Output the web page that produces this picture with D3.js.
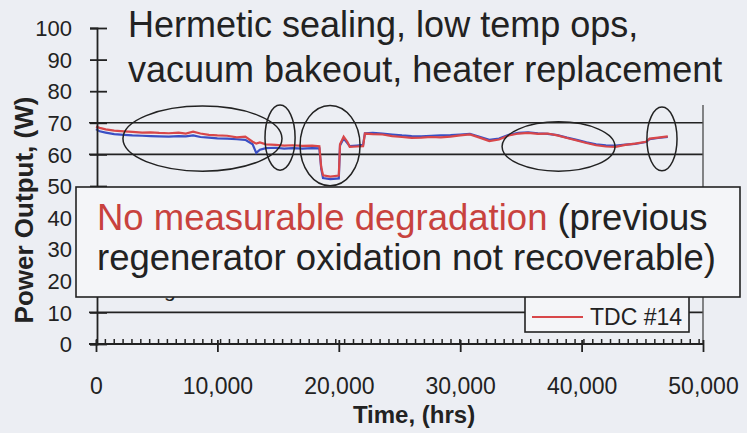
<!DOCTYPE html>
<html>
<head>
<meta charset="utf-8">
<script src="https://cdn.jsdelivr.net/npm/d3@7"></script>
<style>
  body { margin: 0; background: #eceef3; }
  text { font-family: "Liberation Sans", Arial, sans-serif; fill: #222; }
</style>
</head>
<body>
<script>
// time in hours, power in watts
const hours = [0, 300, 800, 1500, 2300, 3000, 3800, 4500, 5200, 6000, 6800, 7400, 8000, 8600, 9300,
  10000, 10800, 11600, 12300, 12900, 13200, 13500, 14000, 14800, 15500, 16200, 17000, 17800, 18400,
  18550, 18700, 19300, 20000, 20100, 20400, 20700, 20900, 21500, 22000, 22150, 22800, 23600, 24400,
  25200, 26000, 26800, 27600, 28400, 29200, 30000, 30800, 31600, 32400, 33200, 34000, 34800, 35600,
  36400, 37200, 38000, 38800, 39600, 40400, 41200, 42000, 42800, 43600, 44400, 45300, 45600, 46300, 47100];

const tdc14 = [68.8, 68.4, 67.9, 67.5, 67.3, 67.1, 66.9, 67.0, 66.8, 66.7, 66.9, 66.6, 67.2, 66.6, 66.2,
  66.0, 65.9, 65.4, 65.6, 64.0, 63.4, 63.8, 63.2, 63.0, 62.8, 62.9, 62.7, 62.8, 62.6,
  56.0, 53.4, 53.0, 53.3, 63.2, 65.6, 64.0, 62.4, 62.5, 62.6, 66.6, 66.4, 66.3, 65.8,
  65.5, 65.2, 65.3, 65.5, 65.4, 65.6, 66.0, 66.3, 65.3, 64.2, 64.7, 66.0, 66.6, 66.8,
  66.5, 66.6, 66.0, 65.2, 64.4, 63.6, 62.9, 62.5, 62.4, 63.0, 63.4, 64.0, 65.0, 65.3, 65.7];

const tdc13 = [68.0, 67.3, 66.9, 66.4, 66.2, 66.0, 65.9, 65.8, 65.7, 65.6, 65.8, 65.7, 66.0, 65.5, 65.3,
  65.1, 65.0, 64.8, 64.6, 63.2, 60.5, 61.5, 62.0, 62.1, 61.8, 62.0, 61.8, 62.0, 61.9,
  55.5, 52.5, 52.2, 52.4, 62.8, 65.0, 63.6, 62.6, 62.8, 63.0, 66.7, 66.8, 66.6, 66.3,
  66.0, 65.8, 65.7, 65.9, 66.0, 66.1, 66.3, 66.5, 65.6, 64.6, 65.0, 66.2, 66.8, 67.0,
  66.7, 66.5, 66.1, 65.3, 64.6, 63.8, 63.2, 62.9, 62.8, 63.1, 63.3, 63.9, 64.8, 65.2, 65.5];

const yTicks = [0, 10, 20, 30, 40, 50, 60, 70, 80, 90, 100];
const xTicks = [0, 10000, 20000, 30000, 40000, 50000];
const refLines = [10, 60, 70];

// annotation ellipses: centre hours, centre watts, half-width hours, half-height watts
const ellipses = [
  [8770, 65.0, 6550, 10.3],
  [15160, 65.3, 1240, 10.3],
  [19280, 62.8, 2470, 12.7],
  [38100, 62.5, 4650, 7.8],
  [46620, 64.9, 1240, 10.1]
];

const titleLines = ["Hermetic sealing, low temp ops,", "vacuum bakeout, heater replacement"];

const width = 747, height = 433;
const svg = d3.select("body").append("svg").attr("width", width).attr("height", height);

const x = d3.scaleLinear().domain([0, 50000]).range([96, 703]);
const y = d3.scaleLinear().domain([0, 100]).range([344, 28]);

const ink = "#222";

// reference lines
svg.selectAll(".ref").data(refLines).enter().append("line")
  .attr("x1", 89).attr("x2", x(50000))
  .attr("y1", d => y(d)).attr("y2", d => y(d))
  .attr("stroke", ink).attr("stroke-width", 1.6);

// right border
svg.append("line").attr("x1", x(50000)).attr("x2", x(50000))
  .attr("y1", 105).attr("y2", y(0)).attr("stroke", "#555").attr("stroke-width", 1.4);

// data lines
const line = d3.line().x((d, i) => x(hours[i])).y(d => y(d));
svg.append("path").datum(tdc13).attr("d", line)
  .attr("fill", "none").attr("stroke", "#3a4fc4").attr("stroke-width", 2.2);
svg.append("path").datum(tdc14).attr("d", line)
  .attr("fill", "none").attr("stroke", "#d8474a").attr("stroke-width", 2.2);

// y axis
const yAxis = svg.append("g").attr("transform", `translate(${x(0) + 1},0)`)
  .call(d3.axisLeft(y).tickValues(yTicks).tickSize(7));
yAxis.select(".domain").attr("stroke", ink).attr("stroke-width", 1.8);
yAxis.selectAll(".tick line").attr("x1", 10).attr("x2", -7).attr("stroke", ink).attr("stroke-width", 1.8);
yAxis.selectAll(".tick text").attr("x", -25).attr("dy", "0.35em")
  .style("font-size", "22px").style("fill", ink);

// x axis minor ticks
const xMinor = svg.append("g").attr("transform", `translate(0,${y(0)})`)
  .call(d3.axisBottom(x).tickValues(d3.range(0, 50001, 730)).tickSize(-5).tickFormat(""));
xMinor.select(".domain").remove();
xMinor.selectAll(".tick line").attr("stroke", ink).attr("stroke-width", 1.5);

// x axis
const xAxis = svg.append("g").attr("transform", `translate(0,${y(0)})`)
  .call(d3.axisBottom(x).tickValues(xTicks).tickSize(8).tickPadding(26).tickFormat(d3.format(",")));
xAxis.select(".domain").attr("d", `M${89},0H${x(50000)}`).attr("stroke", ink).attr("stroke-width", 1.8);
xAxis.selectAll(".tick line").attr("y1", -4).attr("stroke", ink).attr("stroke-width", 1.8);
xAxis.selectAll(".tick text").style("font-size", "23px").style("fill", ink);

// annotation ellipses
svg.selectAll(".ell").data(ellipses).enter().append("ellipse")
  .attr("cx", d => x(d[0])).attr("cy", d => y(d[1]))
  .attr("rx", d => x(d[2]) - x(0)).attr("ry", d => y(0) - y(d[3]))
  .attr("fill", "none").attr("stroke", ink).attr("stroke-width", 1.5);

// title area
svg.append("rect").attr("x", 118).attr("y", 0).attr("width", width - 118).attr("height", 104)
  .attr("fill", "#eceef3");
svg.selectAll(".title").data(titleLines).enter().append("text")
  .attr("x", 128).attr("y", (d, i) => 37 + i * 45)
  .style("font-size", "36px").text(d => d);

// hidden text peeking below the box
svg.append("text").attr("x", 164).attr("y", 297).style("font-size", "21px").text("g");

// legend
svg.append("rect").attr("x", 525).attr("y", 285).attr("width", 164).attr("height", 47)
  .attr("fill", "#f4f5f8").attr("stroke", ink).attr("stroke-width", 1.6);
svg.append("line").attr("x1", 532).attr("x2", 583).attr("y1", 317).attr("y2", 317)
  .attr("stroke", "#d8474a").attr("stroke-width", 2);
svg.append("text").attr("x", 590).attr("y", 325).style("font-size", "23px").text("TDC #14");

// conclusion text box
svg.append("rect").attr("x", 76).attr("y", 187).attr("width", 664).attr("height", 110)
  .attr("fill", "#f4f5f8").attr("stroke", ink).attr("stroke-width", 1.6);
const red = svg.append("text").attr("x", 97).attr("y", 230).style("font-size", "36.5px")
  .style("fill", "#c8423e").text("No measurable degradation");
const redW = red.node().getComputedTextLength();
svg.append("text").attr("x", 97 + redW + 10).attr("y", 230).style("font-size", "36.5px")
  .text("(previous");
svg.append("text").attr("x", 97).attr("y", 270).style("font-size", "36.5px")
  .text("regenerator oxidation not recoverable)");

// axis titles
svg.append("text").attr("transform", "translate(33,210) rotate(-90)")
  .attr("text-anchor", "middle").style("font-size", "26px").style("font-weight", "bold")
  .text("Power Output, (W)");
svg.append("text").attr("x", 414).attr("y", 423).attr("text-anchor", "middle")
  .style("font-size", "24px").style("font-weight", "bold").text("Time, (hrs)");
</script>
</body>
</html>
